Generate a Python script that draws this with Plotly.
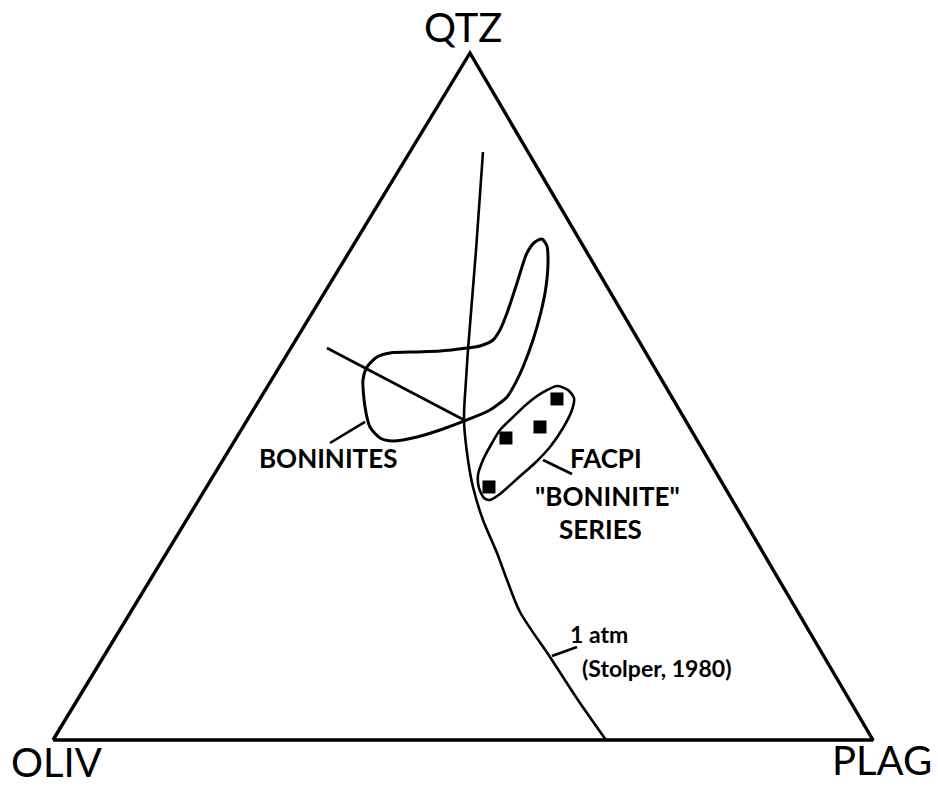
import plotly.graph_objects as go

# Diagram frame: x runs OLIV (0) -> PLAG (100) along the base, y runs base (0) -> QTZ apex (100)
triangle_x = [0.0, 50.85, 100.0, 0.0]
triangle_y = [0.0, 100.0, 0.0, 0.0]

# 1 atm olivine-plagioclase-silica cotectic (Stolper, 1980)
cotectic_x = [52.44, 51.59, 50.61, 50.37, 50.12, 50.61, 51.22, 52.44, 54.15, 55.37, 56.95, 60.61, 64.02, 67.44]
cotectic_y = [85.59, 71.32, 56.77, 52.40, 46.58, 40.76, 36.83, 32.02, 27.22, 23.29, 18.63, 12.08, 5.82, 0.0]

# tie line crossing the boninite field
tie_x = [33.41, 50.37]
tie_y = [57.06, 46.43]

# boninite field outline
bon_x = [59.63, 60.24, 60.37, 60.12, 59.51, 58.54, 57.32, 56.46, 55.37, 53.29, 50.49, 47.56, 44.39,
         41.46, 39.88, 38.66, 38.05, 37.80, 38.29, 39.51, 41.10, 44.39, 47.20, 50.49, 52.07, 53.66,
         54.51, 55.37, 56.59, 57.80, 58.78, 59.63]
bon_y = [72.93, 71.91, 69.58, 65.94, 62.30, 58.22, 54.29, 52.11, 49.93, 48.03, 46.58, 45.27, 44.10,
         43.52, 43.96, 45.56, 48.47, 52.40, 54.29, 55.75, 56.33, 56.48, 56.62, 57.06, 57.35, 58.22,
         59.68, 62.15, 66.52, 70.89, 72.49, 72.93]

# FACPI "boninite" series field outline
facpi_x = [61.46, 62.80, 63.54, 63.29, 62.20, 60.61, 58.78, 56.71, 54.51, 53.29, 52.56, 51.95, 51.83,
           52.44, 53.54, 54.51, 55.98, 57.80, 59.63, 61.46]
facpi_y = [51.53, 50.95, 49.78, 48.03, 45.41, 42.65, 40.32, 38.14, 35.81, 34.93, 35.23, 36.68, 38.57,
           40.76, 43.23, 45.12, 46.87, 48.91, 50.51, 51.53]

# FACPI samples
sample_x = [61.46, 59.39, 55.24, 53.17]
sample_y = [49.64, 45.56, 43.96, 36.83]

# label leader lines
leaders = [
    ([33.78, 38.05], [43.23, 46.29]),
    ([59.76, 63.29], [40.76, 38.72]),
    ([60.85, 63.90], [12.23, 13.54]),
]

fig = go.Figure()

fig.add_trace(go.Scatter(x=triangle_x, y=triangle_y, mode="lines",
                         line=dict(color="black", width=3.4)))
fig.add_trace(go.Scatter(x=cotectic_x, y=cotectic_y, mode="lines",
                         line=dict(color="black", width=2.6, shape="spline", smoothing=0.8)))
fig.add_trace(go.Scatter(x=tie_x, y=tie_y, mode="lines",
                         line=dict(color="black", width=2.6)))
fig.add_trace(go.Scatter(x=bon_x, y=bon_y, mode="lines",
                         line=dict(color="black", width=3.0, shape="spline", smoothing=0.7)))
fig.add_trace(go.Scatter(x=facpi_x, y=facpi_y, mode="lines",
                         line=dict(color="black", width=2.6, shape="spline", smoothing=0.7)))
for lx, ly in leaders:
    fig.add_trace(go.Scatter(x=lx, y=ly, mode="lines", line=dict(color="black", width=2.6)))
fig.add_trace(go.Scatter(x=sample_x, y=sample_y, mode="markers",
                         marker=dict(symbol="square", size=13, color="black")))

vertex_font = dict(family="Lato", size=40, color="black")
label_font = dict(family="Lato", size=26, color="black", weight="bold")
small_font = dict(family="Lato", size=23, color="black", weight="bold")

texts = [
    ("QTZ", 50.06, 103.71, vertex_font),
    ("OLIV", 0.43, -3.20, vertex_font),
    ("PLAG", 101.16, -2.91, vertex_font),
    ("BONINITES", 33.54, 41.05, label_font),
    ("FACPI", 67.44, 41.05, label_font),
    ("\"BONINITE\"", 67.68, 35.52, label_font),
    ("SERIES", 66.83, 30.71, label_font),
    ("1 atm", 66.60, 15.43, small_font),
    ("(Stolper, 1980)", 73.54, 10.48, small_font),
]
for t, x, y, f in texts:
    fig.add_annotation(x=x, y=y, text=t, showarrow=False, font=f,
                       xanchor="center", yanchor="middle")

fig.update_layout(
    width=938, height=793,
    margin=dict(l=0, r=0, t=0, b=0),
    paper_bgcolor="white", plot_bgcolor="white",
    showlegend=False,
    xaxis=dict(range=[-6.463, 107.93], visible=False, fixedrange=True),
    yaxis=dict(range=[-7.715, 107.71], visible=False, fixedrange=True),
)

fig.write_html("out.html")
